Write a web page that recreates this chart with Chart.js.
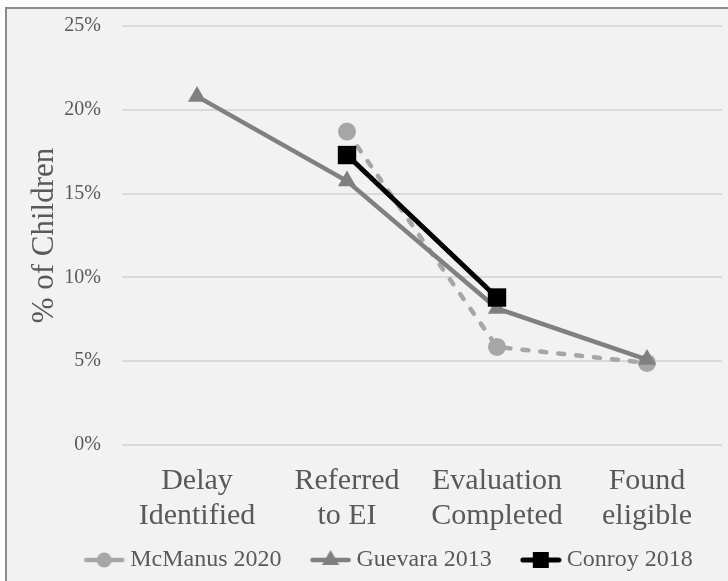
<!DOCTYPE html>
<html>
<head>
<meta charset="utf-8">
<script src="https://cdn.jsdelivr.net/npm/chart.js@4/dist/chart.umd.min.js"></script>
<style>
html,body{margin:0;padding:0;background:#ffffff;}
#wrap{position:absolute;left:0;top:0;width:728px;height:581px;}
</style>
</head>
<body>
<div id="wrap"><canvas id="c" width="728" height="581"></canvas></div>
<script>
const categories = [['Delay','Identified'], ['Referred','to EI'], ['Evaluation','Completed'], ['Found','eligible']];
const seriesNames = ['McManus 2020', 'Guevara 2013', 'Conroy 2018'];
const mcmanus = [null, 18.7, 5.85, 4.9];
const guevara = [20.8, 15.75, 8.15, 5.1];
const conroy = [null, 17.3, 8.8, null];
const yTicks = [0, 5, 10, 15, 20, 25];

const TXT = '#595959';
const FONT = "'Liberation Serif', 'Times New Roman', serif";
const BOXW = 53;

function legendIcon(kind) {
  const cv = document.createElement('canvas');
  cv.width = BOXW + 14; cv.height = 22;
  const g = cv.getContext('2d');
  const cy = 11;
  const x0 = cv.width - 42;
  const cx = x0 + 21;
  if (kind === 0) {
    g.strokeStyle = '#a6a6a6'; g.lineWidth = 4.5; g.lineCap = 'round';
    g.beginPath(); g.moveTo(x0 + 3, cy); g.lineTo(x0 + 39, cy); g.stroke();
    g.fillStyle = '#a6a6a6'; g.beginPath(); g.arc(cx, cy, 7.5, 0, Math.PI * 2); g.fill();
  } else if (kind === 1) {
    g.strokeStyle = '#808080'; g.lineWidth = 4.5; g.lineCap = 'round';
    g.beginPath(); g.moveTo(x0 + 3, cy); g.lineTo(x0 + 39, cy); g.stroke();
    const r = 10;
    g.fillStyle = '#808080'; g.beginPath();
    g.moveTo(cx, cy - r); g.lineTo(cx + r * 0.866, cy + r / 2); g.lineTo(cx - r * 0.866, cy + r / 2); g.closePath(); g.fill();
  } else {
    g.strokeStyle = '#000000'; g.lineWidth = 5; g.lineCap = 'round';
    g.beginPath(); g.moveTo(x0 + 3, cy); g.lineTo(x0 + 39, cy); g.stroke();
    g.fillStyle = '#000000'; g.fillRect(cx - 8, cy - 8, 16, 16);
  }
  return cv;
}
const icons = [legendIcon(0), legendIcon(1), legendIcon(2)];

const frame = {
  id: 'frame',
  beforeDraw(chart) {
    const ctx = chart.ctx;
    ctx.save();
    ctx.fillStyle = '#f2f2f2';
    ctx.fillRect(6, 8, 722, 573);
    ctx.strokeStyle = '#8c8c8c';
    ctx.lineWidth = 2;
    ctx.beginPath();
    ctx.moveTo(6, 581); ctx.lineTo(6, 8); ctx.lineTo(728, 8);
    ctx.stroke();
    ctx.restore();
  },
  afterLayout(chart) {
    if (chart.legend) {
      chart.legend.left += 18;
      chart.legend.right += 18;
      chart.legend.top += 5;
      chart.legend.bottom += 5;
    }
  }
};

new Chart(document.getElementById('c'), {
  type: 'line',
  data: {
    labels: categories,
    datasets: [
      {
        label: seriesNames[0], data: mcmanus, order: 3,
        borderColor: '#a6a6a6', backgroundColor: '#a6a6a6',
        borderWidth: 4.5, borderDash: [6, 12], borderCapStyle: 'round',
        pointStyle: 'circle', pointRadius: 9, pointHoverRadius: 9, pointBorderWidth: 0,
        spanGaps: false
      },
      {
        label: seriesNames[1], data: guevara, order: 2,
        borderColor: '#808080', backgroundColor: '#808080',
        borderWidth: 4.5,
        pointStyle: 'triangle', pointRadius: 10.5, pointHoverRadius: 10.5, pointBorderWidth: 0
      },
      {
        label: seriesNames[2], data: conroy, order: 1,
        borderColor: '#000000', backgroundColor: '#000000',
        borderWidth: 5,
        pointStyle: 'rect', pointRadius: 13, pointHoverRadius: 13, pointBorderWidth: 0
      }
    ]
  },
  options: {
    responsive: false,
    animation: false,
    devicePixelRatio: 1,
    layout: { autoPadding: false, padding: { top: 26, right: 6, bottom: 4, left: 0 } },
    plugins: {
      tooltip: { enabled: false },
      title: { display: false },
      legend: {
        position: 'bottom',
        labels: {
          usePointStyle: true,
          pointStyleWidth: BOXW,
          padding: 10,
          color: TXT,
          font: { family: FONT, size: 24 },
          generateLabels(chart) {
            return chart.data.datasets.map((ds, i) => ({
              text: ds.label,
              datasetIndex: i,
              pointStyle: icons[i],
              fillStyle: ds.backgroundColor,
              strokeStyle: ds.borderColor,
              lineWidth: 0,
              hidden: false,
              fontColor: TXT
            }));
          }
        }
      }
    },
    scales: {
      x: {
        offset: true,
        grid: { display: false, drawTicks: false, offset: true },
        border: { display: false },
        ticks: {
          color: TXT, font: { family: FONT, size: 30, lineHeight: 1.15 },
          padding: 19, maxRotation: 0, autoSkip: false
        },
        afterFit(s) { s.height = 88; s.paddingLeft = 0; s.paddingRight = 0; }
      },
      y: {
        min: 0, max: 25,
        afterBuildTicks(s) { s.ticks = yTicks.map(v => ({ value: v })); },
        grid: { color: '#d9d9d9', lineWidth: 2, drawTicks: false },
        border: { display: false },
        ticks: {
          color: TXT, font: { family: FONT, size: 20 }, padding: 21,
          callback: v => v + '%'
        },
        title: {
          display: true, text: '% of Children', color: TXT,
          font: { family: FONT, size: 31 }, padding: { top: 26, bottom: 0 }
        },
        afterFit(s) { s.width = 122; s.paddingTop = 0; s.paddingBottom = 0; }
      }
    }
  },
  plugins: [frame]
});
</script>
</body>
</html>
